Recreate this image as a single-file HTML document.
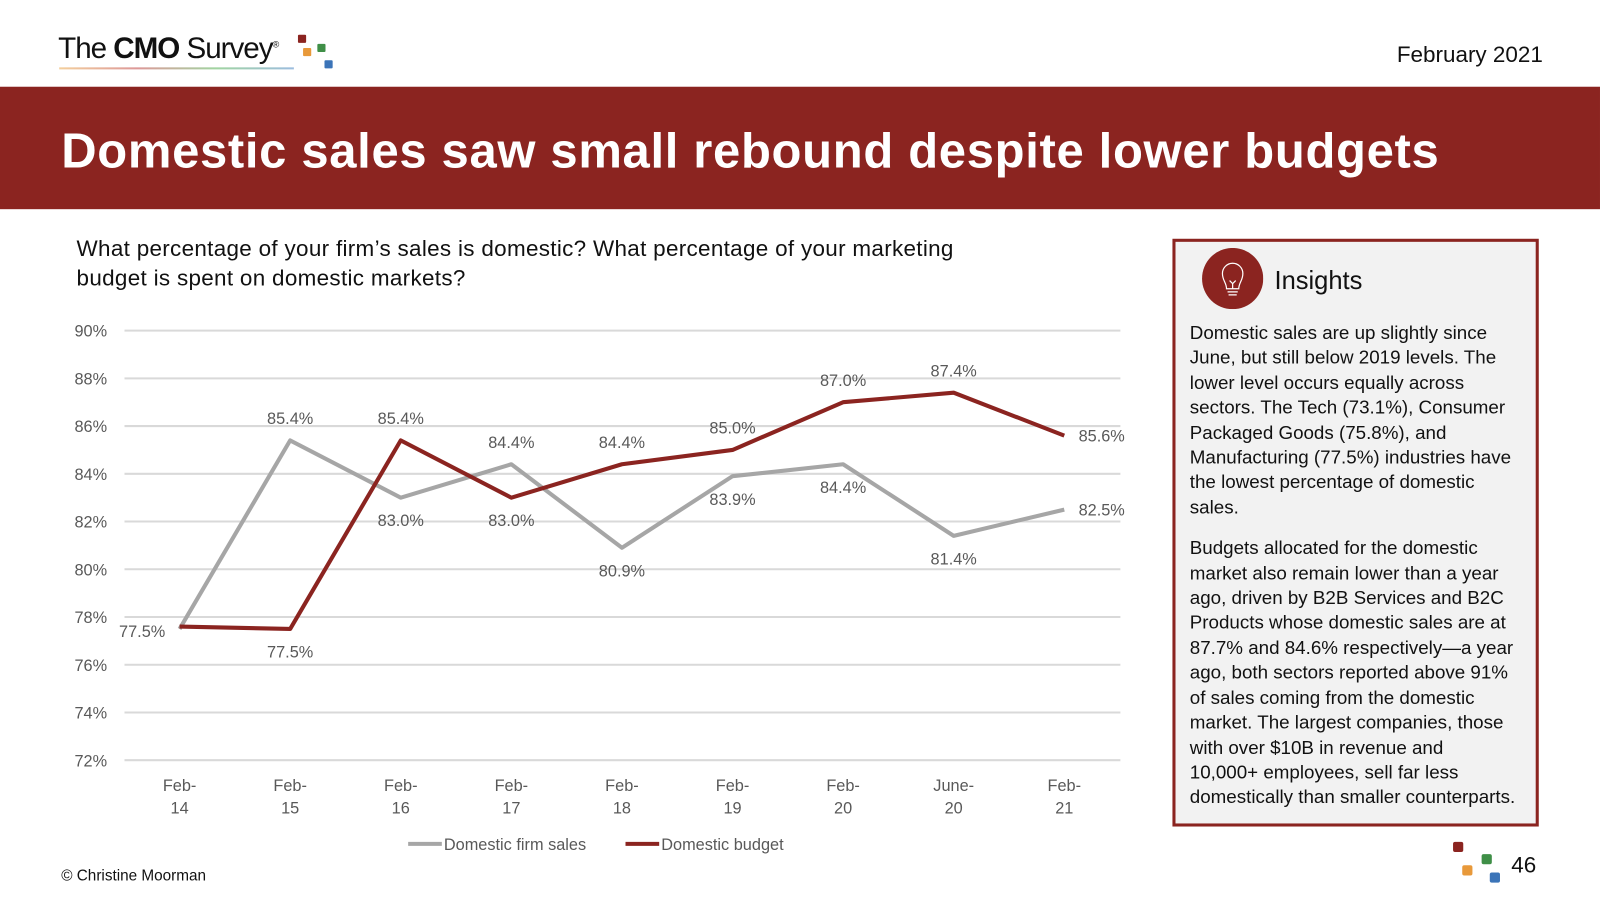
<!DOCTYPE html>
<html><head><meta charset="utf-8">
<style>
html,body{margin:0;padding:0;background:#fff;}
body{width:1600px;height:900px;overflow:hidden;font-family:"Liberation Sans",sans-serif;}
#wrap{position:absolute;left:0;top:0;width:1568px;height:882px;transform:scale(1.0204);transform-origin:0 0;}
.abs{position:absolute;}
</style></head><body>
<div id="wrap">
  <div class="abs" style="left:57px;top:32px;font-size:29px;letter-spacing:-1px;color:#111;">The <b>CMO</b> Survey<sup style="font-size:9px">®</sup></div>
  <div class="abs" style="left:58px;top:66px;width:230px;height:2px;background:linear-gradient(90deg,#e9a03b,#b33,#4a4,#3b7bc0);opacity:.5"></div>
  <div class="abs" style="left:290px;top:34px;width:40px;height:36px;">
    <div class="abs" style="left:2px;top:0;width:8px;height:8px;background:#8b2420;border-radius:1px"></div>
    <div class="abs" style="left:7px;top:13px;width:8px;height:8px;background:#e8993a;border-radius:1px"></div>
    <div class="abs" style="left:21px;top:9px;width:8px;height:8px;background:#3f8f47;border-radius:1px"></div>
    <div class="abs" style="left:28px;top:25px;width:8px;height:8px;background:#3b74b8;border-radius:1px"></div>
  </div>
  <div class="abs" style="right:56px;top:41px;font-size:22px;color:#111;">February 2021</div>
  <div class="abs" style="left:0;top:85px;width:1568px;height:120px;background:#8b2420;"></div>
  <svg class="abs" style="left:0;top:85px" width="1568" height="120">
    <text x="60" y="79" font-size="48" font-weight="bold" fill="#fff" font-family="Liberation Sans" textLength="1350" lengthAdjust="spacing">Domestic sales saw small rebound despite lower budgets</text>
  </svg>
  <div class="abs" style="left:75px;top:229px;width:1000px;font-size:22px;line-height:29px;color:#111;letter-spacing:0.3px;">What percentage of your firm’s sales is domestic? What percentage of your marketing<br>budget is spent on domestic markets?</div>

  <svg class="abs" id="chart" style="left:0;top:0" width="1140" height="882"></svg>

  <div class="abs" style="left:1149px;top:234px;width:353px;height:570px;border:3px solid #8b2420;background:#f2f2f2;"></div>
  <svg class="abs" style="left:1178px;top:243px" width="60" height="60">
    <circle cx="30" cy="30" r="30" fill="#8b2420"/>
    <path d="M24 40 C24 34 20 32 20 25 A10 10 0 0 1 40 25 C40 32 36 34 36 40 Z M25 43 H35 M26 46 H34 M27 32 L30 35 L33 32 M30 35 V40" fill="none" stroke="#fff" stroke-width="1.2"/>
  </svg>
  <div class="abs" style="left:1249px;top:261px;font-size:25px;color:#111;">Insights</div>
  <div class="abs" style="left:1166px;top:314px;width:336px;font-size:18.4px;line-height:24.4px;color:#111;">
    <p style="margin:0 0 16px">Domestic sales are up slightly since<br>June, but still below 2019 levels. The<br>lower level occurs equally across<br>sectors. The Tech (73.1%), Consumer<br>Packaged Goods (75.8%), and<br>Manufacturing (77.5%) industries have<br>the lowest percentage of domestic<br>sales.</p>
    <p style="margin:0">Budgets allocated for the domestic<br>market also remain lower than a year<br>ago, driven by B2B Services and B2C<br>Products whose domestic sales are at<br>87.7% and 84.6% respectively—a year<br>ago, both sectors reported above 91%<br>of sales coming from the domestic<br>market. The largest companies, those<br>with over $10B in revenue and<br>10,000+ employees, sell far less<br>domestically than smaller counterparts.</p>
  </div>
  <div class="abs" style="left:60px;top:850px;font-size:15px;color:#111;">© Christine Moorman</div>
  <div class="abs" style="left:1424px;top:825px;width:50px;height:45px;">
    <div class="abs" style="left:0;top:0;width:10px;height:10px;background:#8b2420;border-radius:2px"></div>
    <div class="abs" style="left:9px;top:23px;width:10px;height:10px;background:#e8993a;border-radius:2px"></div>
    <div class="abs" style="left:28px;top:12px;width:10px;height:10px;background:#3f8f47;border-radius:2px"></div>
    <div class="abs" style="left:36px;top:30px;width:10px;height:10px;background:#3b74b8;border-radius:2px"></div>
  </div>
  <div class="abs" style="left:1481px;top:835px;font-size:22px;color:#111;">46</div>
</div>
<script>
const categories = ["Feb-14","Feb-15","Feb-16","Feb-17","Feb-18","Feb-19","Feb-20","June-20","Feb-21"];
const salesValues = [77.5,85.4,83.0,84.4,80.9,83.9,84.4,81.4,82.5];
const budgetValues = [77.6,77.5,85.4,83.0,84.4,85.0,87.0,87.4,85.6];
const salesLabels = ["77.5%","85.4%","83.0%","84.4%","80.9%","83.9%","84.4%","81.4%","82.5%"];
const budgetLabels = ["","77.5%","85.4%","83.0%","84.4%","85.0%","87.0%","87.4%","85.6%"];
const yTicks = [72,74,76,78,80,82,84,86,88,90];
const salesPlace = ["left","above","below","above","below","below","below","below","right"];
const budgetPlace = ["none","below","above","below","above","above","above","above","right"];

const NS="http://www.w3.org/2000/svg";
const svg=document.getElementById('chart');
const X0=122,X1=1098,yMin=72,yMax=90,Ytop=324,Ybot=745;
const xs=i=>176+i*(1043-176)/(categories.length-1);
const ys=v=>Ybot-(v-yMin)/(yMax-yMin)*(Ybot-Ytop);
function mk(tag,attrs,parent){const e=document.createElementNS(NS,tag);for(const k in attrs)e.setAttribute(k,attrs[k]);(parent||svg).appendChild(e);return e;}
yTicks.forEach(t=>{
  const l=mk('line',{x1:X0,x2:X1,y1:ys(t),y2:ys(t),stroke:'#d9d9d9','stroke-width':2});
  
  
  const tx=mk('text',{x:105,y:ys(t)+6,'text-anchor':'end','font-size':16,fill:'#595959','font-family':'Liberation Sans'});
  tx.textContent=t+'%';
  
  
});
categories.forEach((c,i)=>{
  const p=c.split('-');
  const t=mk('text',{x:xs(i),y:775,'text-anchor':'middle','font-size':16,fill:'#595959','font-family':'Liberation Sans'});
  
  
  mk('tspan',{x:xs(i),dy:0},t).textContent=p[0]+'-';
  mk('tspan',{x:xs(i),dy:22},t).textContent=p[1];
});
function series(vals,labels,place,color,name){
  const pl=mk('polyline',{points:vals.map((v,i)=>xs(i)+','+ys(v)).join(' '),fill:'none',stroke:color,'stroke-width':4,'stroke-linejoin':'round'});
  
  
  vals.forEach((v,i)=>{
    if(place[i]==='none')return;
    let x=xs(i),y=ys(v),a='middle';
    if(place[i]==='above')y-=16;
    else if(place[i]==='below')y+=28;
    else if(place[i]==='left'){x-=14;y+=8;a='end';}
    else {x+=14;y+=6;a='start';}
    const t=mk('text',{x:x,y:y,'text-anchor':a,'font-size':16,fill:'#595959','font-family':'Liberation Sans'});
    t.textContent=labels[i];
    
    
  });
}
series(salesValues,salesLabels,salesPlace,'#a6a6a6','domestic-sales');
series(budgetValues,budgetLabels,budgetPlace,'#8b2420','domestic-budget');
[[400,'#a6a6a6','Domestic firm sales','legend-sales'],[613,'#8b2420','Domestic budget','legend-budget']].forEach(d=>{
  const g=mk('g',{});
  
  
  mk('line',{x1:d[0],x2:d[0]+33,y1:827,y2:827,stroke:d[1],'stroke-width':4},g);
  const t=mk('text',{x:d[0]+35,y:833,'font-size':16,fill:'#595959','font-family':'Liberation Sans'},g);
  t.textContent=d[2];
});
</script>
</body></html>
